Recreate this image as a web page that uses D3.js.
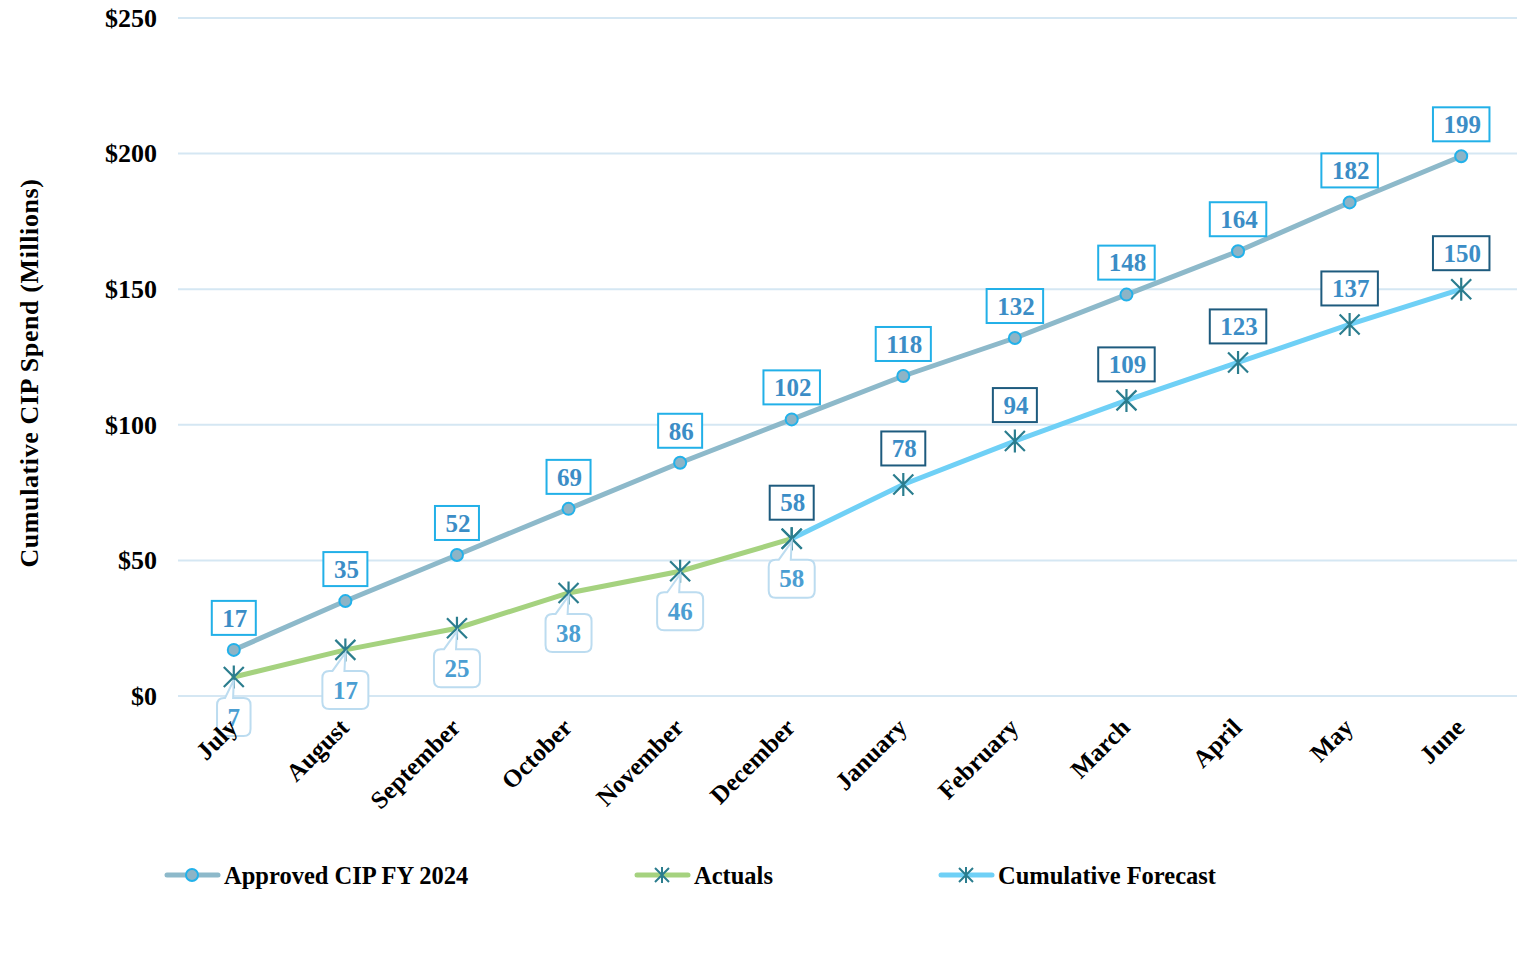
<!DOCTYPE html>
<html>
<head>
<meta charset="utf-8">
<script src="https://cdn.jsdelivr.net/npm/d3@7"></script>
<style>
  body { margin: 0; background: #fff; }
  text { font-family: "Liberation Serif", "DejaVu Serif", serif; font-weight: bold; }
</style>
</head>
<body>
<div class="chart"></div>
<script>
var svgWidth = 1519;
var svgHeight = 961;

var margin = { top: 18, right: 2, bottom: 265, left: 178 };
var width = svgWidth - margin.left - margin.right;
var height = svgHeight - margin.top - margin.bottom;

// chart data
var months = ["July", "August", "September", "October", "November", "December",
  "January", "February", "March", "April", "May", "June"];
var approved = [17, 35, 52, 69, 86, 102, 118, 132, 148, 164, 182, 199];
var actualMonths = ["July", "August", "September", "October", "November", "December"];
var actuals = [7, 17, 25, 38, 46, 58];
var forecastMonths = ["December", "January", "February", "March", "April", "May", "June"];
var forecast = [58, 78, 94, 109, 123, 137, 150];
var yTicks = [0, 50, 100, 150, 200, 250];

var svg = d3.select(".chart").append("svg")
  .attr("width", svgWidth)
  .attr("height", svgHeight);

var chartGroup = svg.append("g")
  .attr("transform", `translate(${margin.left}, ${margin.top})`);

var xScale = d3.scalePoint()
  .domain(months)
  .range([0, width])
  .padding(0.5);

var yScale = d3.scaleLinear()
  .domain([0, 250])
  .range([height, 0]);

// gridlines
chartGroup.append("g")
  .selectAll("line")
  .data(yTicks)
  .enter().append("line")
  .attr("x1", 0)
  .attr("x2", width)
  .attr("y1", d => yScale(d))
  .attr("y2", d => yScale(d))
  .attr("stroke", "#d5e7f3")
  .attr("stroke-width", 2);

// y axis labels
var leftAxis = d3.axisLeft(yScale)
  .tickValues(yTicks)
  .tickSize(0)
  .tickPadding(21)
  .tickFormat(d => "$" + d);

var yAxis = chartGroup.append("g").call(leftAxis);
yAxis.select(".domain").remove();
yAxis.selectAll("text")
  .attr("font-size", "26px")
  .attr("fill", "#000")
  .style("font-family", "'Liberation Serif', serif");

// y axis title
svg.append("text")
  .attr("transform", "rotate(-90)")
  .attr("x", -373)
  .attr("y", 38)
  .attr("text-anchor", "middle")
  .attr("font-size", "26px")
  .attr("letter-spacing", "0.6px")
  .text("Cumulative CIP Spend (Millions)");

var line = d3.line()
  .x(d => xScale(d[0]))
  .y(d => yScale(d[1]));

var approvedPts = months.map((m, i) => [m, approved[i]]);
var actualPts = actualMonths.map((m, i) => [m, actuals[i]]);
var forecastPts = forecastMonths.map((m, i) => [m, forecast[i]]);

chartGroup.append("path")
  .datum(approvedPts)
  .attr("d", line)
  .attr("fill", "none")
  .attr("stroke", "#8db9ca")
  .attr("stroke-width", 5)
  .attr("stroke-linecap", "round");

chartGroup.append("path")
  .datum(actualPts)
  .attr("d", line)
  .attr("fill", "none")
  .attr("stroke", "#a5d27f")
  .attr("stroke-width", 5)
  .attr("stroke-linecap", "round");

chartGroup.append("path")
  .datum(forecastPts)
  .attr("d", line)
  .attr("fill", "none")
  .attr("stroke", "#6fd0f6")
  .attr("stroke-width", 5)
  .attr("stroke-linecap", "round");

// star marker (x with vertical bar)
function starPath(s) {
  return `M${-s},${-s}L${s},${s}M${-s},${s}L${s},${-s}M0,${-s * 1.15}L0,${s * 1.15}`;
}

function drawCircle(g, x, y) {
  g.append("circle")
    .attr("cx", x).attr("cy", y).attr("r", 6)
    .attr("fill", "#8db4c6")
    .attr("stroke", "#22b1ea")
    .attr("stroke-width", 2);
}

function drawStar(g, x, y) {
  g.append("path")
    .attr("transform", `translate(${x},${y})`)
    .attr("d", starPath(10))
    .attr("fill", "none")
    .attr("stroke", "#2b7d8e")
    .attr("stroke-width", 2.2);
}

approvedPts.forEach(d => drawCircle(chartGroup, xScale(d[0]), yScale(d[1])));
actualPts.forEach(d => drawStar(chartGroup, xScale(d[0]), yScale(d[1])));
forecastPts.forEach(d => drawStar(chartGroup, xScale(d[0]), yScale(d[1])));

// boxed data labels above the points
function boxLabel(g, x, y, value, border, offset) {
  var lg = g.append("g");
  var rect = lg.append("rect");
  var t = lg.append("text")
    .attr("x", x + 1)
    .attr("y", y - offset)
    .attr("dy", "0.35em")
    .attr("text-anchor", "middle")
    .attr("font-size", "25px")
    .attr("fill", "#3b8dc6")
    .text(value);
  var w = t.node().getComputedTextLength() + 19;
  var h = 34;
  rect.attr("x", x - w / 2)
    .attr("y", y - offset - h / 2)
    .attr("width", w)
    .attr("height", h)
    .attr("fill", "#fff")
    .attr("stroke", border)
    .attr("stroke-width", 2);
}

// rounded callout below the point with a wedge pointing up at it
function calloutLabel(g, x, y, value) {
  var lg = g.append("g");
  var shape = lg.append("path");
  var cy = y + 40;
  var t = lg.append("text")
    .attr("x", x)
    .attr("y", cy)
    .attr("dy", "0.35em")
    .attr("text-anchor", "middle")
    .attr("font-size", "25px")
    .attr("fill", "#4b9ed2")
    .text(value);
  var w = t.node().getComputedTextLength() + 21;
  var h = 38;
  var r = 7;
  var l = x - w / 2, rt = x + w / 2, tp = cy - h / 2, bt = cy + h / 2;
  var w1 = l + Math.max(r + 1, w * 0.22), w2 = l + w * 0.48;
  var p = `M${l + r},${tp}L${w1},${tp}L${x},${y + 3}L${w2},${tp}L${rt - r},${tp}` +
    `Q${rt},${tp} ${rt},${tp + r}L${rt},${bt - r}Q${rt},${bt} ${rt - r},${bt}` +
    `L${l + r},${bt}Q${l},${bt} ${l},${bt - r}L${l},${tp + r}Q${l},${tp} ${l + r},${tp}Z`;
  shape.attr("d", p)
    .attr("fill", "#fff")
    .attr("stroke", "#bcdcf0")
    .attr("stroke-width", 2);
}

approvedPts.forEach(d => boxLabel(chartGroup, xScale(d[0]), yScale(d[1]), d[1], "#22b0e8", 32));
forecastPts.forEach(d => boxLabel(chartGroup, xScale(d[0]), yScale(d[1]), d[1], "#1e5b7e", 36));
actualPts.forEach(d => calloutLabel(chartGroup, xScale(d[0]), yScale(d[1]), d[1]));

// x axis labels, rotated
chartGroup.append("g")
  .selectAll("text")
  .data(months)
  .enter().append("text")
  .attr("transform", d => `translate(${xScale(d) + 5}, ${height + 33}) rotate(-45)`)
  .attr("text-anchor", "end")
  .attr("font-size", "25px")
  .attr("fill", "#000")
  .text(d => d);

// legend
var legendItems = [
  { name: "Approved CIP FY 2024", color: "#8db9ca", marker: "circle", x: 165 },
  { name: "Actuals", color: "#a5d27f", marker: "star", x: 635 },
  { name: "Cumulative Forecast", color: "#6fd0f6", marker: "star", x: 939 }
];

var legend = svg.append("g");
legendItems.forEach(function(item) {
  var ly = 875;
  legend.append("line")
    .attr("x1", item.x + 2).attr("x2", item.x + 53)
    .attr("y1", ly).attr("y2", ly)
    .attr("stroke", item.color)
    .attr("stroke-width", 5)
    .attr("stroke-linecap", "round");
  if (item.marker === "circle") {
    drawCircle(legend, item.x + 27, ly);
  } else {
    legend.append("path")
      .attr("transform", `translate(${item.x + 27},${ly})`)
      .attr("d", starPath(7))
      .attr("fill", "none")
      .attr("stroke", "#2b7d8e")
      .attr("stroke-width", 2);
  }
  legend.append("text")
    .attr("x", item.x + 59)
    .attr("y", ly)
    .attr("dy", "0.35em")
    .attr("font-size", "24.5px")
    .attr("fill", "#000")
    .text(item.name);
});
</script>
</body>
</html>
